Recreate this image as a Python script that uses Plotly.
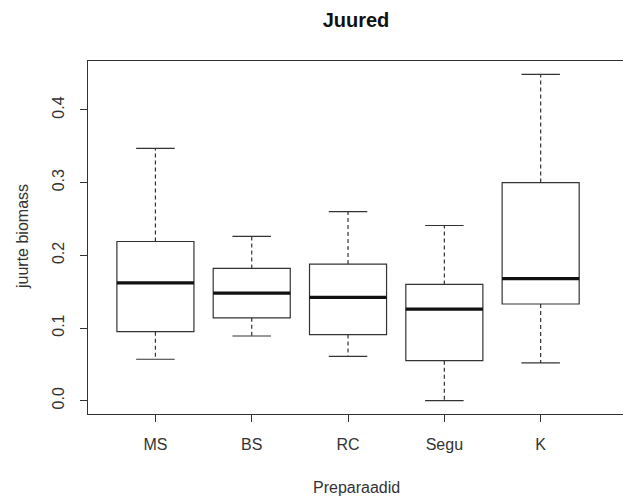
import plotly.graph_objects as go

categories = ["MS", "BS", "RC", "Segu", "K"]
lower = [0.057, 0.089, 0.061, 0.000, 0.052]
q1 = [0.095, 0.114, 0.091, 0.055, 0.133]
median = [0.162, 0.148, 0.142, 0.126, 0.168]
q3 = [0.219, 0.182, 0.188, 0.160, 0.300]
upper = [0.347, 0.226, 0.260, 0.241, 0.449]
y_ticks = [0.0, 0.1, 0.2, 0.3, 0.4]
y_ticklabels = ["0.0", "0.1", "0.2", "0.3", "0.4"]

pos = list(range(1, len(categories) + 1))
LC = "#333333"
TC = "#333333"
FONT = "Liberation Sans, Arial, sans-serif"

fig = go.Figure()

fig.add_trace(go.Box(
    x=pos, q1=q1, median=median, q3=q3, lowerfence=q1, upperfence=q3,
    width=0.8, whiskerwidth=0, fillcolor="white",
    line=dict(color=LC, width=1.2), boxpoints=False, showlegend=False,
    hoverinfo="skip",
))

wx, wy = [], []
cx, cy = [], []
mx, my = [], []
for i, p in enumerate(pos):
    wx += [p, p, None, p, p, None]
    wy += [q3[i], upper[i], None, q1[i], lower[i], None]
    cx += [p - 0.2, p + 0.2, None, p - 0.2, p + 0.2, None]
    cy += [upper[i], upper[i], None, lower[i], lower[i], None]
    mx += [p - 0.4, p + 0.4, None]
    my += [median[i], median[i], None]

fig.add_trace(go.Scatter(x=wx, y=wy, mode="lines", showlegend=False, hoverinfo="skip",
                         line=dict(color=LC, width=1.2, dash="4px,3px")))
fig.add_trace(go.Scatter(x=cx, y=cy, mode="lines", showlegend=False, hoverinfo="skip",
                         line=dict(color=LC, width=1.2)))
fig.add_trace(go.Scatter(x=mx, y=my, mode="lines", showlegend=False, hoverinfo="skip",
                         line=dict(color="#111111", width=3.2)))

L, R, T, B = 88, 0, 61, 83
W, H = 623, 497
plot_w = W - L - R
plot_h = H - T - B

fig.update_layout(
    width=W, height=H,
    margin=dict(l=L, r=R, t=T, b=B, autoexpand=False),
    paper_bgcolor="white", plot_bgcolor="white",
    font=dict(family=FONT, color=TC, size=16),
    title=dict(text="<b>Juured</b>", x=356 / W, xref="container", xanchor="center",
               y=1 - 20 / H, yref="container", yanchor="middle",
               font=dict(size=20, color="#111111", family=FONT)),
    xaxis=dict(range=[0.3, 5.855], tickvals=pos, ticktext=categories,
               showgrid=False, zeroline=False, showline=True, mirror=True,
               linecolor=LC, linewidth=1.2, ticks="outside", ticklen=7,
               tickcolor=LC, tickfont=dict(size=16), ticklabelstandoff=9),
    yaxis=dict(range=[-0.0183, 0.4673], tickvals=y_ticks, ticktext=y_ticklabels,
               showgrid=False, zeroline=False, showline=True, mirror=False,
               linecolor=LC, linewidth=1.2, ticks="outside", ticklen=7,
               tickcolor=LC, tickangle=-90, tickfont=dict(size=16),
               ticklabelstandoff=10),
    annotations=[
        dict(text="Preparaadid", x=(356 - L) / plot_w, xref="paper",
             y=(T + plot_h - 487) / plot_h, yref="paper",
             xanchor="center", yanchor="middle", showarrow=False, font=dict(size=16)),
        dict(text="juurte biomass", x=(22 - L) / plot_w, xref="paper",
             y=(T + plot_h - 237) / plot_h, yref="paper",
             xanchor="center", yanchor="middle", showarrow=False, textangle=-90,
             font=dict(size=16)),
    ],
)

fig.write_html("out.html", config={"displayModeBar": False})
with open("out.html", "r", encoding="utf-8") as f:
    html = f.read()
html = html.replace("<head>", "<head><style>html,body{margin:0;padding:0;overflow:hidden;}</style>", 1)
with open("out.html", "w", encoding="utf-8") as f:
    f.write(html)
